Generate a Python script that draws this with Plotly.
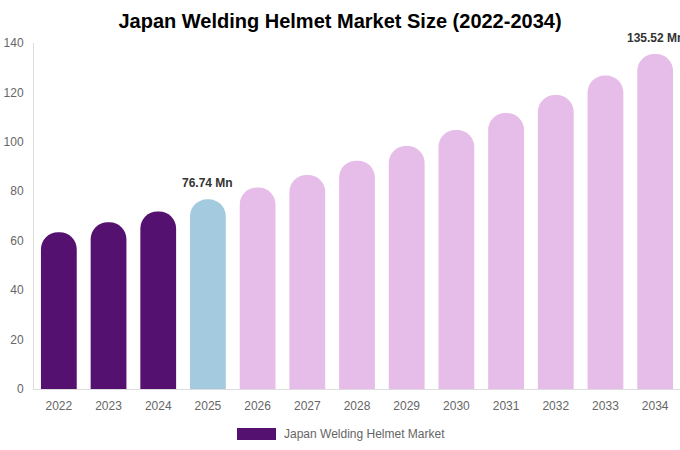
import plotly.graph_objects as go

years = ["2022", "2023", "2024", "2025", "2026", "2027", "2028", "2029", "2030", "2031", "2032", "2033", "2034"]
values = [63.4, 67.5, 71.8, 76.74, 81.5, 86.6, 92.4, 98.3, 104.8, 111.7, 119.0, 126.8, 135.52]
colors = ["#541170"] * 3 + ["#a4cadf"] + ["#e6bce8"] * 9
label_years = ["2025", "2034"]
label_texts = ["76.74 Mn", "135.52 Mn"]
y_ticks = [0, 20, 40, 60, 80, 100, 120, 140]
series_name = "Japan Welding Helmet Market"

FONT = "Liberation Sans, Arial, sans-serif"

fig = go.Figure()
fig.add_trace(go.Bar(
    x=years, y=values, marker=dict(color=colors, cornerradius="50%", line=dict(width=0)),
    name=series_name, showlegend=False, hoverinfo="x+y",
))

for yr, txt in zip(label_years, label_texts):
    i = years.index(yr)
    fig.add_annotation(x=i, y=values[i], text="<b>" + txt + "</b>",
                       showarrow=False, yanchor="bottom", yshift=7,
                       font=dict(family=FONT, size=12, color="#333333"))

# legend swatch and label
fig.add_shape(type="rect", xref="paper", yref="paper",
              x0=(237 - 34) / 646, x1=(276 - 34) / 646,
              y0=-(428 - 389) / 346, y1=-(440 - 389) / 346,
              fillcolor="#541170", line=dict(width=0))
fig.add_annotation(xref="paper", yref="paper", x=(282 - 34) / 646, y=-(434 - 389) / 346,
                   text=series_name, showarrow=False, xanchor="left", yanchor="middle",
                   font=dict(family=FONT, size=12, color="#666666"))

fig.update_layout(
    width=680, height=450,
    margin=dict(l=34, r=0, t=43, b=61),
    paper_bgcolor="white", plot_bgcolor="white",
    title=dict(text="<b>Japan Welding Helmet Market Size (2022-2034)</b>",
               x=0.5, xanchor="center", y=1 - 21 / 450, yanchor="middle",
               font=dict(family=FONT, size=20, color="#000000")),
    bargap=0.28,
    font=dict(family=FONT),
    xaxis=dict(type="category", range=[-0.5, len(years) - 0.5], showgrid=False, showline=True,
               linecolor="#dddddd", linewidth=1,
               ticks="outside", ticklen=6, tickcolor="rgba(0,0,0,0)",
               tickfont=dict(size=12, color="#666666"), fixedrange=True),
    yaxis=dict(range=[0, 140], tickvals=y_ticks, showgrid=False, showline=True,
               linecolor="#dddddd", linewidth=1, ticks="outside", ticklen=7,
               tickcolor="rgba(0,0,0,0)", zeroline=False,
               tickfont=dict(size=12, color="#666666"), fixedrange=True),
)

fig.write_html("out.html", config={"displayModeBar": False},
               post_script="document.body.style.margin='0';")
